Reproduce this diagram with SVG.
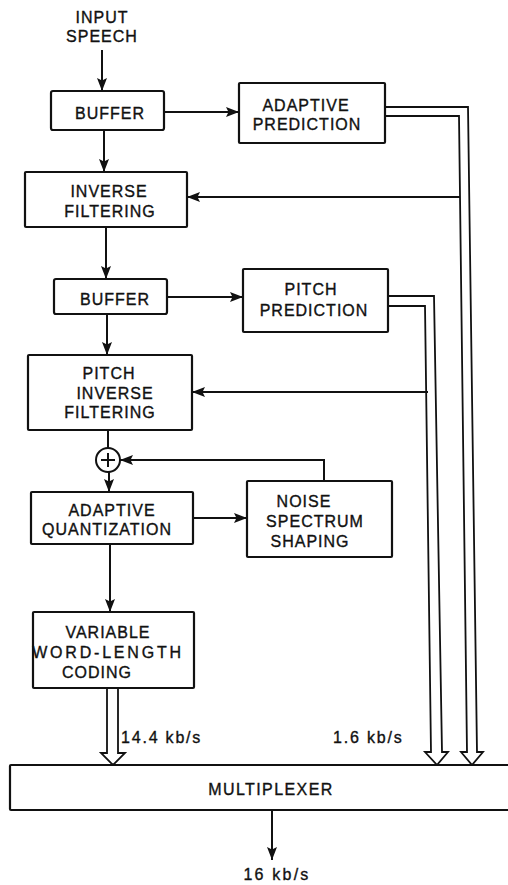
<svg xmlns="http://www.w3.org/2000/svg" width="508" height="885" viewBox="0 0 508 885">
<defs>
<style>
.box{fill:#fff;stroke:#111;stroke-width:2.2}
.ln{fill:none;stroke:#111;stroke-width:2}
.arr{fill:none;stroke:#111;stroke-width:2;marker-end:url(#ah)}
.hol{fill:none;stroke:#111;stroke-width:1.8;stroke-linejoin:miter}
text{font-family:"Liberation Sans",Arial,sans-serif;font-size:16px;fill:#111;stroke:#111;stroke-width:0.35px;letter-spacing:1px;text-anchor:middle}
.rate{letter-spacing:1.8px;text-anchor:start}
</style>
<marker id="ah" viewBox="0 0 13 10" refX="13" refY="5" markerWidth="13" markerHeight="10" markerUnits="userSpaceOnUse" orient="auto">
<path d="M0,0 L13,5 L0,10 L2.5,5 z" fill="#111"/>
</marker>
</defs>
<rect width="508" height="885" fill="#fff"/>

<g id="connectors">
<line class="arr" x1="102" y1="50" x2="102" y2="91"/>
<line class="arr" x1="164" y1="112" x2="239" y2="112"/>
<line class="arr" x1="104" y1="130" x2="104" y2="172"/>
<line class="arr" x1="460" y1="197" x2="187" y2="197"/>
<line class="arr" x1="106" y1="227" x2="106" y2="279"/>
<line class="arr" x1="167" y1="297" x2="243" y2="297"/>
<line class="arr" x1="107" y1="314" x2="107" y2="355"/>
<line class="arr" x1="428" y1="392" x2="192" y2="392"/>
<line class="ln" x1="108" y1="430" x2="108" y2="448"/>
<line class="arr" x1="109" y1="472" x2="109" y2="492"/>
<polyline class="arr" points="324,481 324,460 120,460"/>
<line class="arr" x1="193" y1="518" x2="247" y2="518"/>
<line class="arr" x1="110" y1="544" x2="110" y2="612"/>
<line class="arr" x1="272" y1="810" x2="272" y2="860"/>
<path class="hol" d="M385,116 H459 L467,752 H461 L472,765 L483,752 H477 L468,107 H385"/>
<path class="hol" d="M388,306 H425 L431,752 H425 L437,765 L448,752 H442 L434,296 H388"/>
<path class="hol" d="M107,688 V753 H101 L113,765 L125,753 H118 V688"/>
</g>

<g id="input-label">
<text x="102" y="23">INPUT</text>
<text x="102" y="42">SPEECH</text>
</g>

<g id="buffer1">
<rect class="box" x="51" y="91" width="113" height="39" rx="2"/>
<text x="110" y="119">BUFFER</text>
</g>

<g id="adaptive-prediction">
<rect class="box" x="239" y="83" width="146" height="60" rx="1"/>
<text x="306" y="111">ADAPTIVE</text>
<text x="307" y="130">PREDICTION</text>
</g>

<g id="inverse-filtering">
<rect class="box" x="25" y="172" width="162" height="55" rx="1"/>
<text x="109" y="197">INVERSE</text>
<text x="110" y="217">FILTERING</text>
</g>

<g id="buffer2">
<rect class="box" x="54" y="279" width="113" height="35" rx="2"/>
<text x="115" y="305">BUFFER</text>
</g>

<g id="pitch-prediction">
<rect class="box" x="243" y="269" width="145" height="63" rx="1"/>
<text x="311" y="295">PITCH</text>
<text x="314" y="316">PREDICTION</text>
</g>

<g id="pitch-inverse-filtering">
<rect class="box" x="28" y="355" width="164" height="75" rx="1"/>
<text x="109" y="379">PITCH</text>
<text x="115" y="399">INVERSE</text>
<text x="110" y="418">FILTERING</text>
</g>

<g id="summer">
<circle cx="108" cy="460" r="12" fill="#fff" stroke="#111" stroke-width="2"/>
<line class="ln" x1="101" y1="460" x2="115" y2="460"/>
<line class="ln" x1="108" y1="453" x2="108" y2="467"/>
</g>

<g id="adaptive-quantization">
<rect class="box" x="31" y="492" width="162" height="52" rx="1"/>
<text x="112" y="516">ADAPTIVE</text>
<text x="107" y="535">QUANTIZATION</text>
</g>

<g id="noise-spectrum-shaping">
<rect class="box" x="247" y="481" width="145" height="76" rx="1"/>
<text x="304" y="507">NOISE</text>
<text x="315" y="527">SPECTRUM</text>
<text x="310" y="547">SHAPING</text>
</g>

<g id="variable-word-length-coding">
<rect class="box" x="33" y="612" width="161" height="76" rx="1"/>
<text x="108" y="638">VARIABLE</text>
<text x="108" y="658" style="letter-spacing:2.8px">WORD-LENGTH</text>
<text x="97" y="678">CODING</text>
</g>

<g id="rates">
<text class="rate" x="121" y="743">14.4 kb/s</text>
<text class="rate" x="333" y="743">1.6 kb/s</text>
</g>

<g id="multiplexer">
<rect class="box" x="10" y="765" width="510" height="45" rx="1"/>
<text x="271" y="795" style="letter-spacing:1.4px">MULTIPLEXER</text>
</g>

<g id="output-label">
<text x="277" y="880" style="letter-spacing:2.2px">16 kb/s</text>
</g>
</svg>
